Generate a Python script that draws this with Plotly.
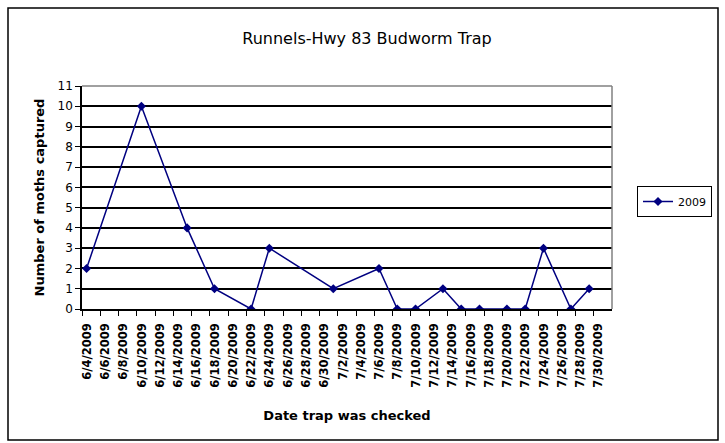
import plotly.graph_objects as go
import pandas as pd

# ---- data ----
check_dates = ["2009-06-04", "2009-06-10", "2009-06-15", "2009-06-18", "2009-06-22",
               "2009-06-24", "2009-07-01", "2009-07-06", "2009-07-08", "2009-07-10",
               "2009-07-13", "2009-07-15", "2009-07-17", "2009-07-20", "2009-07-22",
               "2009-07-24", "2009-07-27", "2009-07-29"]
moths_2009 = [2, 10, 4, 1, 0, 3, 1, 2, 0, 0, 1, 0, 0, 0, 0, 3, 0, 1]

tick_labels = ["6/4/2009", "6/6/2009", "6/8/2009", "6/10/2009", "6/12/2009", "6/14/2009",
               "6/16/2009", "6/18/2009", "6/20/2009", "6/22/2009", "6/24/2009", "6/26/2009",
               "6/28/2009", "6/30/2009", "7/2/2009", "7/4/2009", "7/6/2009", "7/8/2009",
               "7/10/2009", "7/12/2009", "7/14/2009", "7/16/2009", "7/18/2009", "7/20/2009",
               "7/22/2009", "7/24/2009", "7/26/2009", "7/28/2009", "7/30/2009"]
y_ticks = list(range(0, 12))

# ---- layout geometry (pixels) ----
W, H = 725, 443
L, R, T, B = 82, 113, 86, 134
pw, ph = W - L - R, H - T - B

half_day = pd.Timedelta(hours=12)
tick_dates = [pd.to_datetime(t, format="%m/%d/%Y") for t in tick_labels]
tick_pos = [(d - half_day).strftime("%Y-%m-%d %H:%M") for d in tick_dates]
x_start = (tick_dates[0] - half_day).strftime("%Y-%m-%d %H:%M")
x_end = (tick_dates[-1] + pd.Timedelta(days=1) + half_day).strftime("%Y-%m-%d %H:%M")
px_per_day = pw / ((tick_dates[-1] - tick_dates[0]).days + 2)

FONT = "DejaVu Sans, Arial, sans-serif"
NAVY = "#000080"

fig = go.Figure()
fig.add_trace(go.Scatter(
    x=check_dates, y=moths_2009, name="2009", mode="lines+markers",
    line=dict(color=NAVY, width=1.5),
    marker=dict(symbol="diamond", size=7, color=NAVY),
))

def px2paper_x(p):
    return (p - L) / pw

def px2paper_y(p):
    return (H - B - p) / ph

fig.update_layout(
    width=W, height=H,
    margin=dict(l=L, r=R, t=T, b=B),
    paper_bgcolor="white", plot_bgcolor="white",
    font=dict(family=FONT, color="black", size=11),
    title=dict(text="Runnels-Hwy 83 Budworm Trap", x=367 / W, xanchor="center",
               y=1 - 38 / H, yanchor="middle",
               font=dict(size=16, family=FONT, color="black")),
    showlegend=True,
    legend=dict(x=px2paper_x(637), y=px2paper_y(186), xanchor="left", yanchor="top",
                bordercolor="black", borderwidth=1, bgcolor="white",
                font=dict(size=11, family=FONT, color="black"),
                itemwidth=30, tracegroupgap=0),
    xaxis=dict(
        type="date", range=[x_start, x_end],
        tickmode="array", tickvals=tick_pos, ticktext=tick_labels,
        tickangle=-90, ticks="outside", ticklen=5, tickcolor="black",
        ticklabelshift=int(round(px_per_day / 2)), ticklabelstandoff=3,
        showline=True, linecolor="black", linewidth=1.5,
        showgrid=False, zeroline=False,
        tickfont=dict(size=11.5, family=FONT, color="black", weight="bold"),
        title=dict(text="<b>Date trap was checked</b>", standoff=24,
                   font=dict(size=13, family=FONT, color="black")),
    ),
    yaxis=dict(
        range=[0, 11], tickmode="array", tickvals=y_ticks,
        ticks="outside", ticklen=5, tickcolor="black",
        showline=True, linecolor="black", linewidth=1.5,
        showgrid=True, gridcolor="black", gridwidth=1.5, zeroline=False,
        tickfont=dict(size=12, family=FONT, color="black"),
        title=dict(text="<b>Number of moths captured</b>", standoff=10,
                   font=dict(size=13, family=FONT, color="black")),
    ),
    shapes=[
        # plot-area frame (top/right gray)
        dict(type="line", xref="paper", yref="paper", x0=0, x1=1, y0=1, y1=1,
             line=dict(color="#808080", width=1.5), layer="above"),
        dict(type="line", xref="paper", yref="paper", x0=1, x1=1, y0=0, y1=1,
             line=dict(color="#808080", width=1.5), layer="above"),
        # outer chart border
        dict(type="rect", xref="paper", yref="paper",
             x0=px2paper_x(8), x1=px2paper_x(718), y0=px2paper_y(440), y1=px2paper_y(8),
             line=dict(color="black", width=1.5), fillcolor="rgba(0,0,0,0)", layer="below"),
    ],
)

fig.write_html("out.html")
